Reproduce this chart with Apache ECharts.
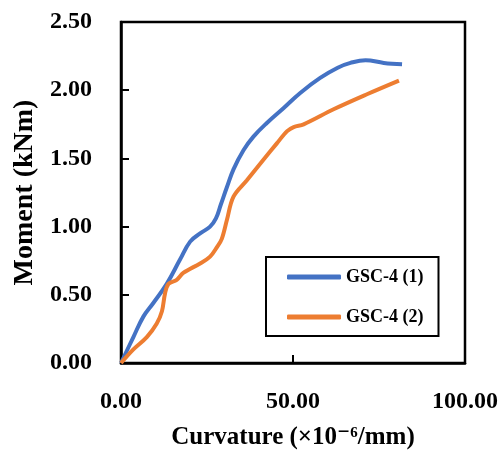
<!DOCTYPE html>
<html>
<head>
<meta charset="utf-8">
<script src="https://cdn.jsdelivr.net/npm/echarts@6/dist/echarts.min.js"></script>
<style>html,body{margin:0;padding:0;background:#fff}#c{width:503px;height:457px}</style>
</head>
<body>
<div id="c"></div>
<script>
const seriesNames = ['GSC-4 (1)', 'GSC-4 (2)'];
const curvature1 = [0, 3.6, 6.5, 9.4, 13.3, 17.2, 20.1, 23.0, 25.9, 27.6, 29.0, 30.8, 32.7, 35.6, 38.5, 42.4, 47.3, 52.1, 57.9, 63.0, 66.7, 71.1, 76.4, 81.7];
const moment1 = [0, 0.19, 0.34, 0.44, 0.58, 0.76, 0.89, 0.95, 1.00, 1.06, 1.16, 1.29, 1.42, 1.56, 1.66, 1.76, 1.87, 1.98, 2.09, 2.165, 2.20, 2.22, 2.20, 2.19];
const curvature2 = [0, 3.6, 7.5, 10.4, 11.9, 12.8, 13.8, 16.2, 18.1, 23.0, 25.9, 27.9, 29.3, 30.8, 32.7, 36.6, 41.4, 45.3, 48.3, 50.2, 53.1, 61.8, 71.5, 80.8];
const moment2 = [0, 0.10, 0.19, 0.29, 0.38, 0.51, 0.58, 0.61, 0.66, 0.73, 0.78, 0.85, 0.91, 1.05, 1.22, 1.34, 1.49, 1.61, 1.70, 1.73, 1.75, 1.86, 1.97, 2.07];
const xTicks = [0, 50, 100];
const yTicks = [0, 0.5, 1.0, 1.5, 2.0, 2.5];

const FONT = '"Liberation Serif", "DejaVu Serif", serif';
const zip = (a, b) => a.map((v, i) => [v, b[i]]);
const chart = echarts.init(document.getElementById('c'), null, {renderer: 'canvas'});
chart.setOption({
  animation: false,
  backgroundColor: '#fff',
  grid: {left: 121, top: 22, right: 38, bottom: 94, show: true, borderColor: '#000', borderWidth: 2.5},
  legend: {
    orient: 'vertical', left: 266, top: 257,
    data: seriesNames,
    icon: 'roundRect', itemWidth: 54, itemHeight: 5, itemGap: 22,
    borderColor: '#000', borderWidth: 2, padding: [11, 15, 10, 21],
    textStyle: {fontFamily: FONT, fontWeight: 'bold', fontSize: 18, lineHeight: 18, color: '#000', padding: [0, 0, 0, 0]}
  },
  xAxis: {
    type: 'value', min: xTicks[0], max: xTicks[xTicks.length - 1], interval: 50,
    name: 'Curvature (×10⁻⁶/mm)', nameLocation: 'middle', nameGap: 62,
    nameTextStyle: {fontFamily: FONT, fontWeight: 'bold', fontSize: 25, color: '#000'},
    axisLine: {show: true, lineStyle: {color: '#000', width: 2.5}},
    axisTick: {show: true, inside: true, length: 8, lineStyle: {color: '#000', width: 2}},
    axisLabel: {fontFamily: FONT, fontWeight: 'bold', fontSize: 24, color: '#000', margin: 27, formatter: v => v.toFixed(2)},
    splitLine: {show: false}
  },
  yAxis: {
    type: 'value', min: yTicks[0], max: yTicks[yTicks.length - 1], interval: 0.5,
    name: 'Moment (kNm)', nameLocation: 'middle', nameGap: 80,
    nameTextStyle: {fontFamily: FONT, fontWeight: 'bold', fontSize: 28, color: '#000'},
    axisLine: {show: true, lineStyle: {color: '#000', width: 2.5}},
    axisTick: {show: true, inside: true, length: 8, lineStyle: {color: '#000', width: 2}},
    axisLabel: {fontFamily: FONT, fontWeight: 'bold', fontSize: 24, color: '#000', margin: 29, formatter: v => v.toFixed(2)},
    splitLine: {show: false}
  },
  series: [
    {name: seriesNames[0], type: 'line', data: zip(curvature1, moment1), smooth: 0.4, showSymbol: false, symbol: 'none',
     lineStyle: {color: '#4472C4', width: 4}, itemStyle: {color: '#4472C4'}},
    {name: seriesNames[1], type: 'line', data: zip(curvature2, moment2), smooth: 0.35, showSymbol: false, symbol: 'none',
     lineStyle: {color: '#ED7D31', width: 4}, itemStyle: {color: '#ED7D31'}}
  ]
});
</script>
</body>
</html>
